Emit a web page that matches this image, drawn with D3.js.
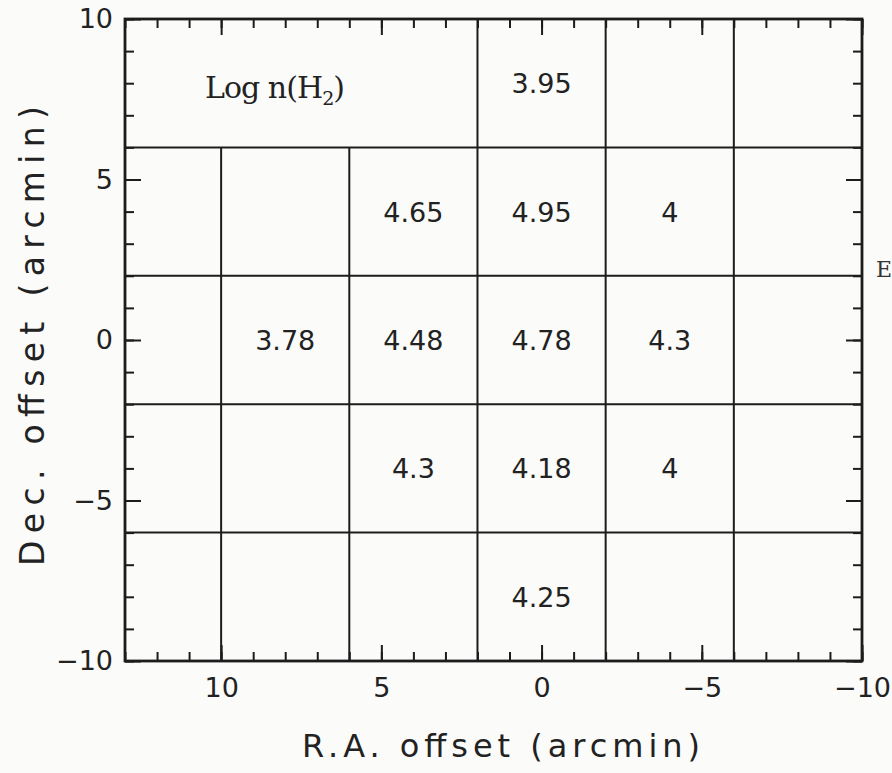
<!DOCTYPE html>
<html>
<head>
<meta charset="utf-8">
<script src="https://cdn.jsdelivr.net/npm/d3@7"></script>
<style>
  html, body { margin: 0; padding: 0; background: #fbfbfa; }
  svg { display: block; }
  .tick text { font-family: "DejaVu Sans", sans-serif; fill: #222; }
</style>
</head>
<body>
<svg id="chart" width="892" height="773"></svg>
<script>
// Map extent (arcmin)
const raDomain = [13, -10];
const decDomain = [10, -10];

// Grid of observed positions: column and row boundaries (arcmin)
const raCellEdges = [10, 6, 2, -2, -6];
const decCellEdges = [6, 2, -2, -6];
// Column edges that stop at the top row boundary (Dec = 6)
const raEdgesBelowTopRow = [10, 6];

// Tick labels
const raTickLabels = [10, 5, 0, -5, -10];
const decTickLabels = [10, 5, 0, -5, -10];

// Log n(H2) at each observed position
const cellRA  = [0,    4,    0,    -4,  8,    4,    0,    -4,  4,   0,    -4, 0];
const cellDec = [8,    4,    4,    4,   0,    0,    0,    0,   -4,  -4,   -4, -8];
const logNH2  = [3.95, 4.65, 4.95, 4,   3.78, 4.48, 4.78, 4.3, 4.3, 4.18, 4,  4.25];

const svg = d3.select("#chart");
const margin = { left: 125, right: 30, top: 19, bottom: 112 };
const W = 892, H = 773;
const x = d3.scaleLinear().domain(raDomain).range([margin.left, W - margin.right]);
const y = d3.scaleLinear().domain(decDomain).range([margin.top, H - margin.bottom]);

const ink = "#1c1c1c";

// Cell boundaries
const grid = svg.append("g").attr("stroke", ink).attr("stroke-width", 2);
raCellEdges.forEach(v => {
  const top = raEdgesBelowTopRow.includes(v) ? y(6) : y(decDomain[0]);
  grid.append("line")
    .attr("x1", x(v)).attr("x2", x(v))
    .attr("y1", top).attr("y2", y(decDomain[1]));
});
decCellEdges.forEach(v => {
  grid.append("line")
    .attr("x1", x(raDomain[0])).attr("x2", x(raDomain[1]))
    .attr("y1", y(v)).attr("y2", y(v));
});

// Inward ticks on all four sides: minor each arcmin, major each 5 arcmin
const raMinor = d3.range(-10, 14);
const decMinor = d3.range(-10, 11);
const minorLen = 9, majorLen = 16;

function styleAxis(g) {
  g.select(".domain").remove();
  g.selectAll(".tick line").attr("stroke", ink).attr("stroke-width", 2);
}

svg.append("g").attr("transform", `translate(0,${y(-10)})`)
  .call(d3.axisBottom(x).tickValues(raMinor).tickSize(-minorLen).tickFormat(""))
  .call(styleAxis);
svg.append("g").attr("transform", `translate(0,${y(-10)})`)
  .call(d3.axisBottom(x).tickValues(raTickLabels).tickSize(-majorLen).tickPadding(17))
  .call(styleAxis)
  .call(g => g.selectAll(".tick text").attr("font-size", 27));

svg.append("g").attr("transform", `translate(0,${y(10)})`)
  .call(d3.axisTop(x).tickValues(raMinor).tickSize(-minorLen).tickFormat(""))
  .call(styleAxis);
svg.append("g").attr("transform", `translate(0,${y(10)})`)
  .call(d3.axisTop(x).tickValues(raTickLabels).tickSize(-majorLen).tickFormat(""))
  .call(styleAxis);

svg.append("g").attr("transform", `translate(${x(13)},0)`)
  .call(d3.axisLeft(y).tickValues(decMinor).tickSize(-minorLen).tickFormat(""))
  .call(styleAxis);
svg.append("g").attr("transform", `translate(${x(13)},0)`)
  .call(d3.axisLeft(y).tickValues(decTickLabels).tickSize(-majorLen).tickPadding(12))
  .call(styleAxis)
  .call(g => g.selectAll(".tick text").attr("font-size", 27));

svg.append("g").attr("transform", `translate(${x(-10)},0)`)
  .call(d3.axisRight(y).tickValues(decMinor).tickSize(-minorLen).tickFormat(""))
  .call(styleAxis);
svg.append("g").attr("transform", `translate(${x(-10)},0)`)
  .call(d3.axisRight(y).tickValues(decTickLabels).tickSize(-majorLen).tickFormat(""))
  .call(styleAxis);

// Frame
svg.append("rect")
  .attr("x", x(13)).attr("y", y(10))
  .attr("width", x(-10) - x(13)).attr("height", y(-10) - y(10))
  .attr("fill", "none").attr("stroke", ink).attr("stroke-width", 2.8);

// Values in cells
svg.append("g").selectAll("text")
  .data(logNH2)
  .join("text")
  .attr("x", (d, i) => x(cellRA[i]))
  .attr("y", (d, i) => y(cellDec[i]) + 10)
  .attr("text-anchor", "middle")
  .attr("font-family", "DejaVu Sans, sans-serif")
  .attr("font-size", 27)
  .attr("fill", "#222")
  .text(d => String(d));

// Panel title
const title = svg.append("text")
  .attr("x", 205).attr("y", 98)
  .attr("font-family", "DejaVu Serif, serif")
  .attr("font-size", 30)
  .attr("fill", "#222")
  .attr("textLength", 140).attr("lengthAdjust", "spacing");
title.append("tspan").text("Log n(H");
title.append("tspan").attr("font-size", 19).attr("dy", 7).text("2");
title.append("tspan").attr("dy", -7).text(")");

// Axis titles
svg.append("text")
  .attr("x", 501).attr("y", 757)
  .attr("text-anchor", "middle")
  .attr("font-family", "DejaVu Sans, sans-serif")
  .attr("font-size", 32)
  .attr("fill", "#222")
  .attr("textLength", 398).attr("lengthAdjust", "spacing")
  .text("R.A. offset (arcmin)");

svg.append("text")
  .attr("transform", "translate(44,336) rotate(-90)")
  .attr("text-anchor", "middle")
  .attr("font-family", "DejaVu Sans, sans-serif")
  .attr("font-size", 33)
  .attr("fill", "#222")
  .attr("textLength", 460).attr("lengthAdjust", "spacing")
  .text("Dec. offset (arcmin)");

// Edge of neighbouring panel label
svg.append("text")
  .attr("x", 876).attr("y", 277)
  .attr("font-family", "DejaVu Serif, serif")
  .attr("font-size", 22)
  .attr("fill", "#333")
  .text("E");
</script>
</body>
</html>
